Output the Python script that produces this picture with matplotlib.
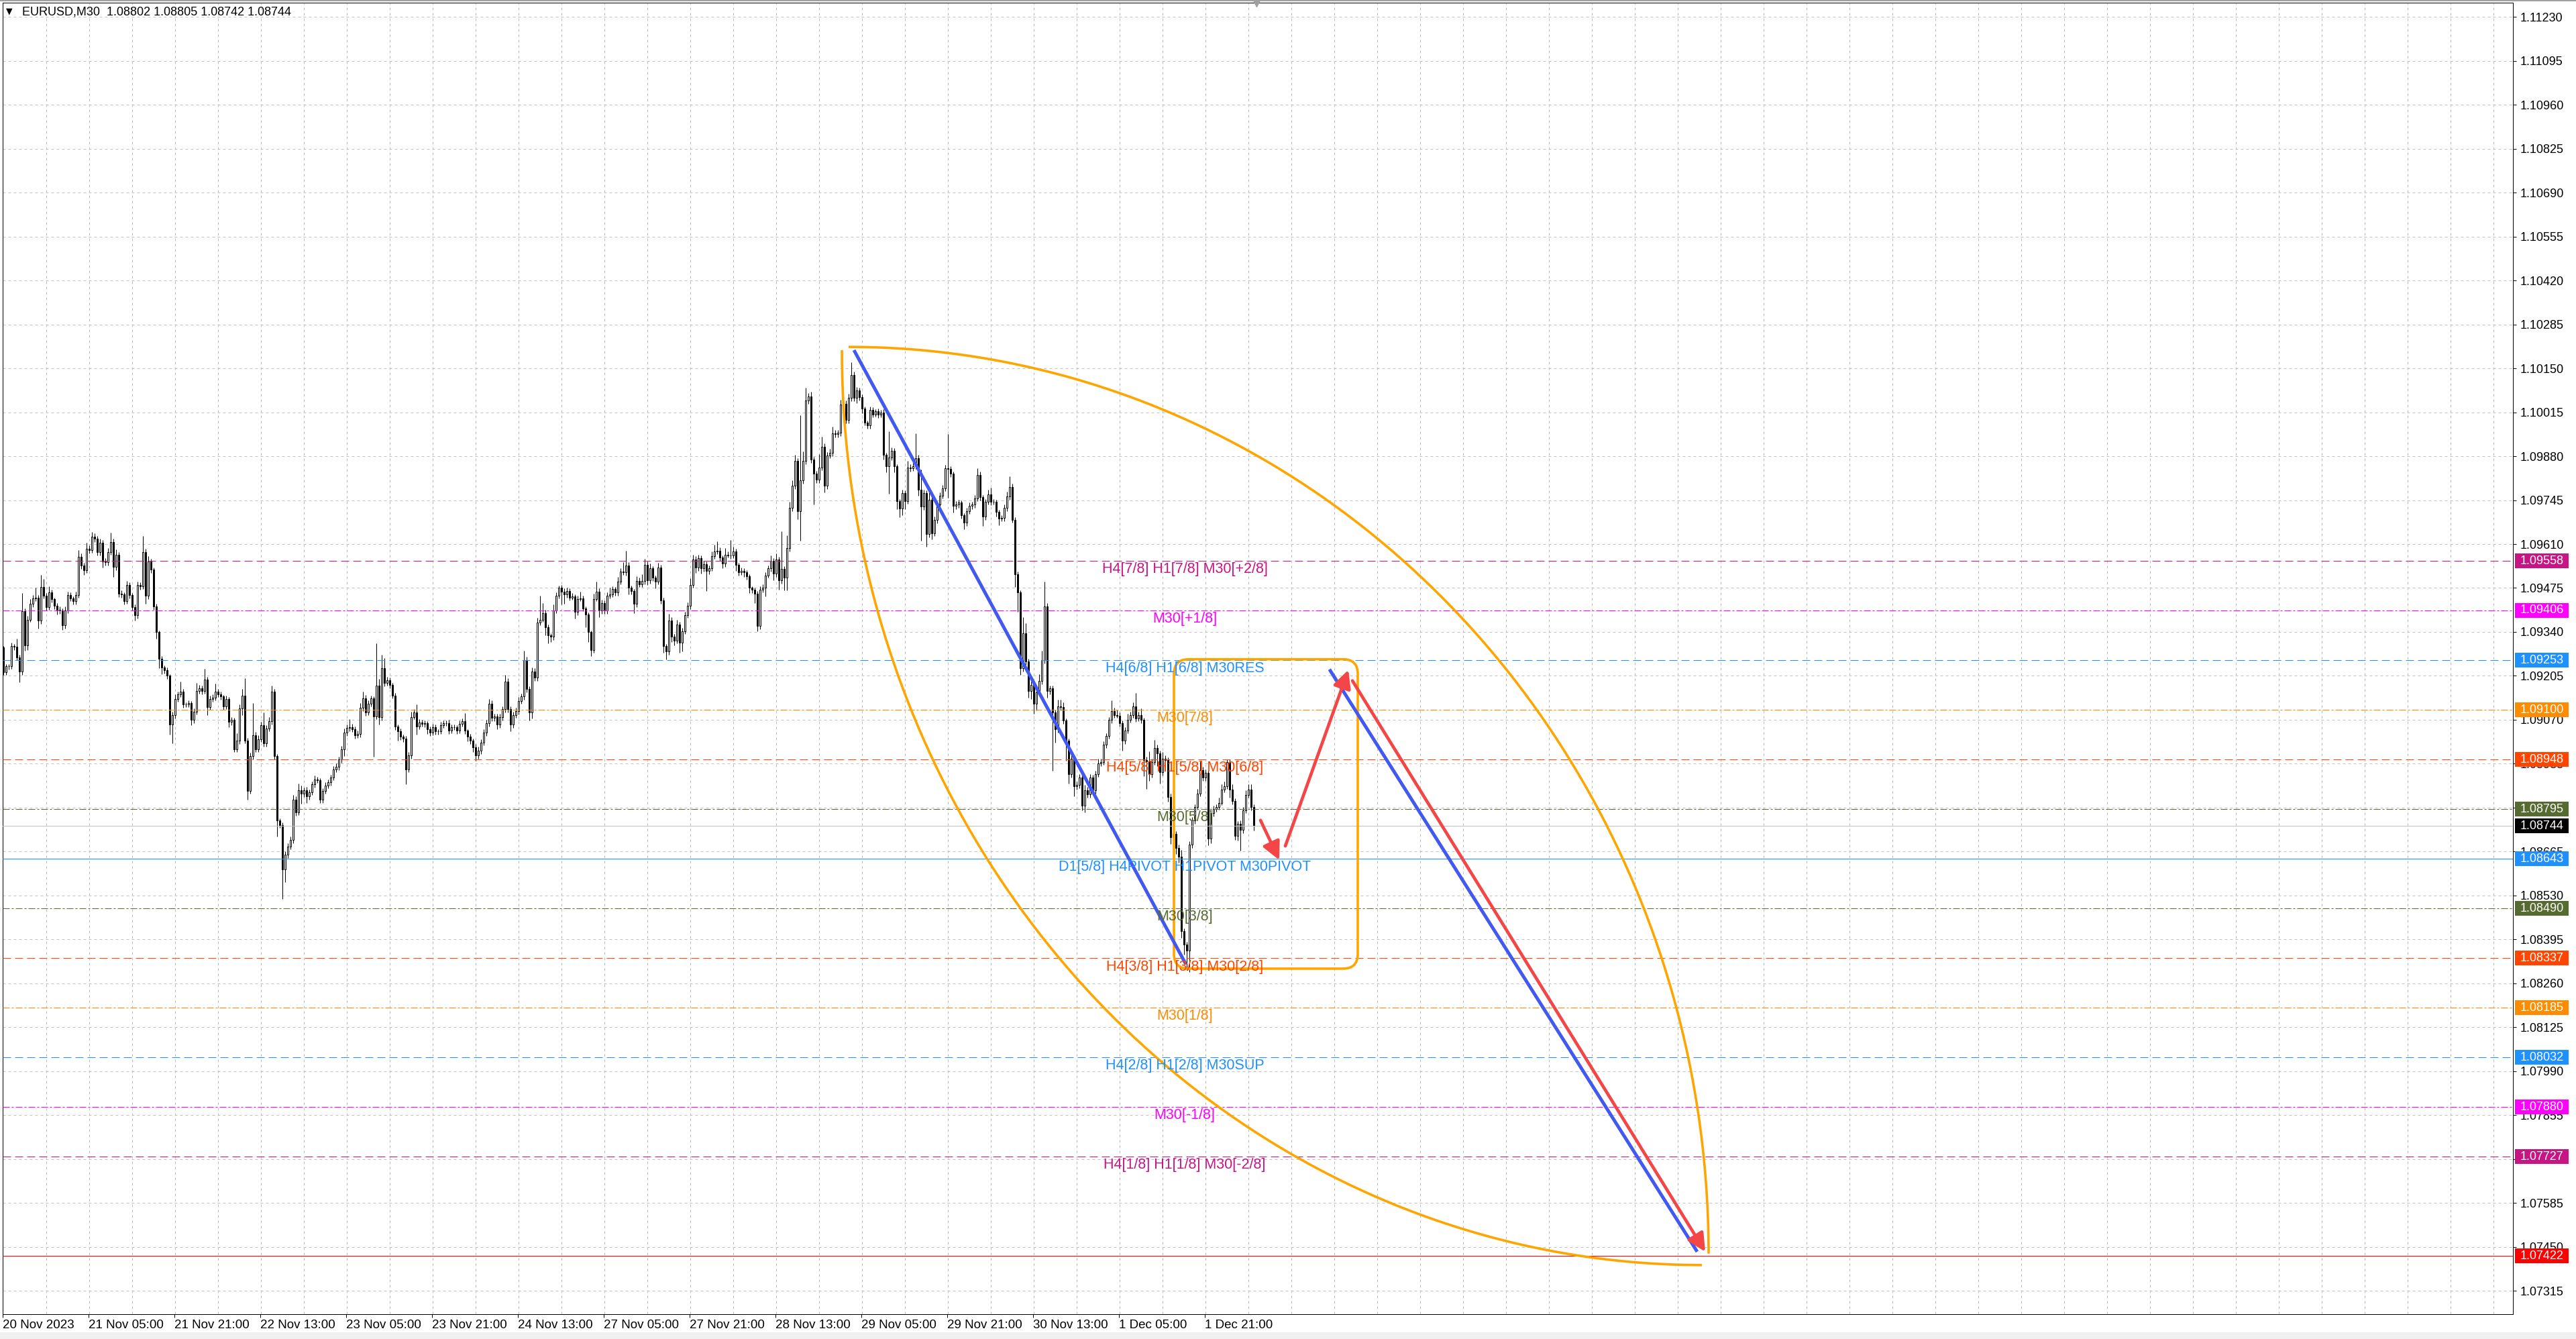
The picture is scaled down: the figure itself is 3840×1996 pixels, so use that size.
import numpy as np
import matplotlib
matplotlib.use('Agg')
import matplotlib.pyplot as plt
from matplotlib.patches import Rectangle, FancyBboxPatch, FancyArrowPatch
from matplotlib.transforms import blended_transform_factory, ScaledTranslation

plt.rcParams['font.family'] = ['Liberation Sans', 'DejaVu Sans']
plt.rcParams['lines.scale_dashes'] = False

# ---------------- data ----------------
symbol = 'EURUSD,M30'
last_ohlc = ['1.08802', '1.08805', '1.08742', '1.08744']

first_open = 1.09292
closes = [
    1.09217, 1.09234, 1.09235, 1.09296, 1.09294, 1.09261, 1.09219, 1.09403, 1.09299, 1.09378,
    1.09427, 1.09444, 1.09446, 1.09374, 1.09478, 1.09451, 1.09416, 1.09461, 1.09440, 1.09420,
    1.09408, 1.09406, 1.09361, 1.09406, 1.09453, 1.09444, 1.09434, 1.09453, 1.09571, 1.09544,
    1.09530, 1.09595, 1.09592, 1.09633, 1.09627, 1.09586, 1.09614, 1.09557, 1.09554, 1.09585,
    1.09616, 1.09539, 1.09578, 1.09458, 1.09455, 1.09434, 1.09485, 1.09453, 1.09416, 1.09391,
    1.09485, 1.09480, 1.09585, 1.09451, 1.09557, 1.09532, 1.09418, 1.09339, 1.09258, 1.09231,
    1.09222, 1.09205, 1.09055, 1.09084, 1.09134, 1.09149, 1.09157, 1.09117, 1.09118, 1.09122,
    1.09069, 1.09094, 1.09158, 1.09167, 1.09158, 1.09193, 1.09110, 1.09134, 1.09138, 1.09157,
    1.09148, 1.09141, 1.09111, 1.09134, 1.09063, 1.09070, 1.08980, 1.09005, 1.09104, 1.09145,
    1.09006, 1.08852, 1.08958, 1.09023, 1.08980, 1.09010, 1.09053, 1.08997, 1.09043, 1.09066,
    1.09156, 1.08959, 1.08761, 1.08747, 1.08610, 1.08655, 1.08681, 1.08700, 1.08824, 1.08786,
    1.08853, 1.08842, 1.08853, 1.08835, 1.08847, 1.08871, 1.08886, 1.08884, 1.08825, 1.08851,
    1.08868, 1.08878, 1.08893, 1.08917, 1.08926, 1.08948, 1.08979, 1.09031, 1.09045, 1.09047,
    1.09042, 1.09023, 1.09027, 1.09106, 1.09136, 1.09093, 1.09120, 1.09135, 1.09081, 1.09175,
    1.09078, 1.09229, 1.09183, 1.09192, 1.09177, 1.09145, 1.09049, 1.09035, 1.09018, 1.09012,
    1.08918, 1.08961, 1.09079, 1.09093, 1.09050, 1.09062, 1.09057, 1.09059, 1.09042, 1.09031,
    1.09047, 1.09035, 1.09034, 1.09053, 1.09060, 1.09060, 1.09036, 1.09047, 1.09047, 1.09036,
    1.09057, 1.09066, 1.09036, 1.09018, 1.09005, 1.08985, 1.08960, 1.08975, 1.09000, 1.09030,
    1.09060, 1.09119, 1.09076, 1.09080, 1.09055, 1.09078, 1.09102, 1.09187, 1.09103, 1.09055,
    1.09085, 1.09096, 1.09127, 1.09141, 1.09253, 1.09165, 1.09093, 1.09219, 1.09200, 1.09368,
    1.09378, 1.09398, 1.09354, 1.09330, 1.09325, 1.09405, 1.09451, 1.09476, 1.09464, 1.09456,
    1.09466, 1.09446, 1.09449, 1.09401, 1.09442, 1.09444, 1.09413, 1.09394, 1.09339, 1.09285,
    1.09442, 1.09464, 1.09406, 1.09428, 1.09406, 1.09451, 1.09455, 1.09471, 1.09462, 1.09494,
    1.09525, 1.09523, 1.09545, 1.09475, 1.09466, 1.09427, 1.09497, 1.09486, 1.09497, 1.09546,
    1.09499, 1.09535, 1.09506, 1.09494, 1.09537, 1.09437, 1.09297, 1.09280, 1.09375, 1.09325,
    1.09314, 1.09363, 1.09306, 1.09343, 1.09391, 1.09420, 1.09485, 1.09562, 1.09537, 1.09566,
    1.09535, 1.09548, 1.09528, 1.09535, 1.09572, 1.09588, 1.09590, 1.09568, 1.09550, 1.09578,
    1.09576, 1.09575, 1.09587, 1.09547, 1.09523, 1.09528, 1.09523, 1.09511, 1.09475, 1.09470,
    1.09458, 1.09358, 1.09470, 1.09475, 1.09514, 1.09535, 1.09559, 1.09519, 1.09562, 1.09499,
    1.09533, 1.09507, 1.09597, 1.09722, 1.09790, 1.09865, 1.09711, 1.09806, 1.09865, 1.10051,
    1.10063, 1.09869, 1.09826, 1.09808, 1.09846, 1.09909, 1.09789, 1.09883, 1.09891, 1.09950,
    1.09948, 1.09952, 1.10039, 1.10041, 1.09992, 1.10059, 1.10130, 1.10059, 1.10083, 1.10061,
    1.10027, 1.09984, 1.09974, 1.10022, 1.10009, 1.10019, 1.10008, 1.10014, 1.09885, 1.09850,
    1.09877, 1.09897, 1.09850, 1.09743, 1.09719, 1.09767, 1.09743, 1.09846, 1.09843, 1.09850,
    1.09875, 1.09778, 1.09725, 1.09767, 1.09640, 1.09747, 1.09644, 1.09684, 1.09731, 1.09759,
    1.09782, 1.09843, 1.09842, 1.09827, 1.09727, 1.09731, 1.09737, 1.09699, 1.09676, 1.09711,
    1.09727, 1.09731, 1.09751, 1.09823, 1.09755, 1.09695, 1.09739, 1.09763, 1.09740, 1.09739,
    1.09709, 1.09688, 1.09690, 1.09721, 1.09756, 1.09786, 1.09684, 1.09518, 1.09462, 1.09229,
    1.09336, 1.09249, 1.09158, 1.09178, 1.09119, 1.09154, 1.09190, 1.09253, 1.09419, 1.09158,
    1.09166, 1.09092, 1.09040, 1.09111, 1.09109, 1.09067, 1.09005, 1.08903, 1.08951, 1.08865,
    1.08870, 1.08892, 1.08806, 1.08854, 1.08840, 1.08892, 1.08854, 1.08903, 1.08935, 1.08940,
    1.08994, 1.09021, 1.09069, 1.09096, 1.09085, 1.09083, 1.09059, 1.09005, 1.09037, 1.09069,
    1.09085, 1.09112, 1.09074, 1.09085, 1.09069, 1.08946, 1.08943, 1.08903, 1.08940, 1.08983,
    1.08967, 1.08908, 1.08951, 1.08946, 1.08833, 1.08709, 1.08720, 1.08677, 1.08650, 1.08420,
    1.08379, 1.08361, 1.08686, 1.08760, 1.08801, 1.08842, 1.08916, 1.08893, 1.08907, 1.08705,
    1.08783, 1.08796, 1.08801, 1.08815, 1.08856, 1.08865, 1.08939, 1.08856, 1.08821, 1.08714,
    1.08751, 1.08732, 1.08792, 1.08838, 1.08856, 1.08801, 1.08744,
]

# wick lengths beyond the candle body, in points (0.00001)
wick_up = [
    5, 8, 6, 10, 6, 26, 8, 57, 10, 12, 15, 10, 30, 8, 38, 25, 8, 20, 8, 6,
    8, 10, 6, 12, 10, 8, 6, 10, 20, 10, 8, 20, 10, 14, 10, 8, 12, 8, 10, 12,
    30, 10, 15, 8, 10, 6, 12, 8, 6, 8, 10, 8, 50, 10, 15, 8, 6, 8, 6, 8,
    6, 8, 6, 10, 15, 8, 30, 8, 6, 8, 6, 10, 25, 10, 8, 34, 8, 10, 10, 25,
    8, 8, 6, 10, 6, 8, 6, 23, 14, 20, 52, 8, 10, 98, 10, 12, 10, 40, 10, 12,
    20, 8, 6, 6, 8, 10, 10, 12, 15, 10, 20, 15, 8, 10, 8, 10, 12, 8, 6, 8,
    10, 8, 8, 10, 10, 8, 10, 12, 10, 25, 10, 8, 10, 15, 20, 10, 10, 10, 8, 130,
    20, 40, 30, 10, 8, 6, 8, 6, 8, 6, 8, 10, 15, 10, 25, 10, 8, 8, 6, 8,
    10, 8, 6, 10, 8, 8, 10, 8, 8, 6, 10, 8, 25, 6, 8, 8, 10, 12, 10, 10,
    10, 15, 10, 8, 8, 10, 10, 22, 10, 8, 10, 10, 12, 10, 29, 10, 8, 12, 10, 15,
    74, 30, 10, 8, 6, 20, 10, 7, 8, 10, 10, 8, 10, 6, 10, 20, 8, 6, 6, 6,
    15, 30, 10, 10, 8, 10, 20, 10, 8, 15, 10, 30, 45, 10, 8, 6, 15, 10, 20, 18,
    10, 15, 8, 8, 15, 10, 8, 6, 20, 10, 8, 15, 8, 10, 10, 10, 20, 15, 10, 12,
    8, 10, 8, 10, 15, 20, 28, 10, 8, 20, 10, 47, 15, 8, 6, 10, 8, 6, 6, 6,
    6, 8, 10, 12, 10, 10, 15, 8, 20, 8, 117, 10, 40, 18, 15, 20, 10, 200, 30, 39,
    10, 15, 10, 8, 40, 30, 10, 10, 12, 20, 10, 8, 15, 20, 10, 12, 39, 10, 10, 8,
    8, 6, 6, 10, 8, 6, 8, 8, 10, 6, 80, 10, 8, 6, 6, 10, 8, 20, 10, 10,
    75, 10, 60, 10, 8, 30, 10, 10, 10, 10, 10, 10, 106, 8, 6, 10, 10, 8, 6, 10,
    10, 8, 10, 20, 10, 6, 10, 15, 20, 8, 8, 6, 8, 10, 15, 32, 10, 8, 8, 6,
    49, 30, 8, 10, 8, 10, 20, 30, 75, 10, 10, 10, 8, 20, 20, 15, 6, 8, 15, 10,
    10, 10, 8, 15, 10, 10, 8, 10, 15, 10, 10, 8, 10, 33, 10, 15, 10, 8, 10, 20,
    10, 11, 40, 10, 20, 8, 10, 30, 10, 25, 10, 8, 20, 10, 8, 10, 8, 8, 10, 20,
    8, 8, 10, 10, 10, 15, 27, 10, 10, 8, 10, 10, 10, 15, 15, 15, 9, 10, 15, 8,
    8, 10, 10, 15, 15, 15, 10,
]
wick_dn = [
    10, 8, 10, 8, 10, 8, 33, 10, 17, 15, 8, 10, 10, 24, 10, 8, 10, 8, 10, 10,
    15, 10, 15, 10, 8, 10, 10, 10, 8, 10, 15, 8, 10, 8, 10, 12, 10, 20, 10, 10,
    8, 30, 10, 10, 10, 10, 8, 10, 10, 15, 10, 10, 8, 25, 10, 10, 10, 20, 30, 20,
    10, 10, 31, 58, 10, 8, 10, 10, 8, 8, 15, 10, 8, 8, 10, 8, 25, 10, 8, 8,
    8, 10, 10, 8, 15, 10, 10, 10, 10, 20, 8, 27, 10, 10, 10, 10, 8, 10, 10, 8,
    10, 10, 50, 10, 90, 40, 10, 10, 10, 10, 8, 30, 10, 20, 10, 8, 10, 8, 10, 10,
    8, 8, 10, 8, 8, 10, 10, 20, 10, 10, 10, 10, 8, 10, 10, 10, 8, 8, 125, 10,
    23, 10, 10, 8, 10, 10, 10, 30, 10, 10, 47, 10, 10, 8, 25, 10, 8, 10, 15, 10,
    8, 10, 10, 8, 8, 8, 10, 8, 8, 10, 8, 8, 10, 15, 10, 15, 15, 10, 10, 8,
    10, 10, 10, 10, 15, 10, 10, 10, 10, 20, 10, 8, 10, 8, 10, 10, 25, 20, 10, 10,
    8, 8, 25, 26, 15, 10, 8, 8, 40, 30, 10, 10, 8, 20, 10, 8, 10, 40, 30, 20,
    10, 8, 20, 10, 10, 10, 8, 8, 10, 10, 8, 8, 10, 20, 10, 30, 10, 8, 8, 10,
    15, 10, 10, 20, 8, 10, 20, 25, 10, 15, 15, 10, 30, 25, 10, 8, 10, 8, 15, 10,
    15, 10, 62, 10, 8, 8, 8, 10, 15, 10, 8, 10, 8, 20, 10, 8, 15, 10, 15, 10,
    30, 17, 10, 8, 25, 8, 10, 20, 10, 30, 10, 40, 40, 10, 10, 10, 25, 90, 10, 10,
    10, 10, 95, 10, 10, 10, 20, 10, 10, 10, 10, 10, 10, 10, 10, 10, 10, 10, 15, 10,
    15, 10, 10, 10, 10, 8, 10, 8, 15, 20, 85, 10, 20, 25, 26, 20, 25, 10, 10, 8,
    10, 20, 105, 10, 39, 10, 20, 10, 10, 10, 8, 10, 90, 10, 20, 10, 10, 10, 20, 10,
    8, 10, 10, 10, 10, 30, 10, 8, 10, 8, 15, 20, 8, 10, 10, 10, 8, 40, 61, 20,
    10, 10, 20, 25, 30, 20, 10, 10, 10, 20, 10, 178, 40, 10, 10, 10, 60, 30, 10, 30,
    10, 10, 15, 20, 10, 10, 10, 10, 8, 8, 8, 10, 8, 10, 10, 8, 10, 30, 10, 8,
    8, 8, 10, 8, 10, 50, 85, 20, 10, 8, 40, 35, 10, 10, 15, 20, 20, 20, 20, 20,
    30, 61, 66, 10, 10, 8, 8, 10, 10, 20, 15, 10, 8, 8, 8, 8, 8, 25, 10, 14,
    15, 64, 10, 8, 8, 10, 15,
]

time_labels = ['20 Nov 2023', '21 Nov 05:00', '21 Nov 21:00', '22 Nov 13:00', '23 Nov 05:00',
               '23 Nov 21:00', '24 Nov 13:00', '27 Nov 05:00', '27 Nov 21:00', '28 Nov 13:00',
               '29 Nov 05:00', '29 Nov 21:00', '30 Nov 13:00', '1 Dec 05:00', '1 Dec 21:00']
bars_per_label = 32

price_axis_top = 1.11230
price_axis_step = 0.00135
price_axis_count = 30

level_prices = [1.09558, 1.09406, 1.09253, 1.09100, 1.08948, 1.08795, 1.08643,
                1.08490, 1.08337, 1.08185, 1.08032, 1.07880, 1.07727]
level_names = ['H4[7/8] H1[7/8] M30[+2/8]', 'M30[+1/8]', 'H4[6/8] H1[6/8] M30RES', 'M30[7/8]',
               'H4[5/8] H1[5/8] M30[6/8]', 'M30[5/8]', 'D1[5/8] H4PIVOT H1PIVOT M30PIVOT',
               'M30[3/8]', 'H4[3/8] H1[3/8] M30[2/8]', 'M30[1/8]', 'H4[2/8] H1[2/8] M30SUP',
               'M30[-1/8]', 'H4[1/8] H1[1/8] M30[-2/8]']
level_colors = ['#C71585', '#FF00FF', '#1E90FF', '#FF8C00', '#FF4500', '#556B2F', '#1E90FF',
                '#556B2F', '#FF4500', '#FF8C00', '#1E90FF', '#FF00FF', '#C71585']
level_styles = ['dash', 'dashdot', 'dash', 'dashdot', 'dash', 'dashdot', 'solid',
                'dashdot', 'dash', 'dashdot', 'dash', 'dashdot', 'dash']
level_label_bar = 440.25

bid_price = 1.08744
target_price = 1.07422

# drawn objects, anchors as (bar index, price)
blue_lines = [((317.0, 1.10206), (440.75, 1.08318)),
              ((494.2, 1.09225), (631.25, 1.07435))]
red_arrows = [((468.5, 1.08761), (475.5, 1.08639)),
              ((477.75, 1.08682), (501.25, 1.09223)),
              ((502.75, 1.09190), (634.25, 1.07435))]
arc_upper = ((315.0, 1.10216), (635.5, 1.07429))
arc_lower = ((312.5, 1.10206), (633.0, 1.07394))
range_box = (436.25, 1.08305, 504.75, 1.09256)

# ---------------- figure ----------------
W, H = 3840, 1996
PX = 0.72  # one pixel in points at dpi 100
fig = plt.figure(figsize=(W / 100, H / 100), dpi=100)
fig.patch.set_facecolor('white')
ax_l, ax_r, ax_t, ax_b = 3.5, 3745.5, 4.0, 1959.0
ax = fig.add_axes([ax_l / W, 1 - ax_b / H, (ax_r - ax_l) / W, (ax_b - ax_t) / H])
ax.set_xlim(-0.375, 935.125)
ax.set_ylim(1.07243, 1.11274)
ppx_price = (1.11274 - 1.07243) / (ax_b - ax_t)

for s in ax.spines.values():
    s.set_linewidth(PX)
    s.set_color('black')

# grid
ax.set_axisbelow(True)
yt = price_axis_top - price_axis_step * np.arange(price_axis_count)
ax.yaxis.tick_right()
ax.set_yticks(yt)
ax.set_yticklabels([f'{v:.5f}' for v in yt])
ax.tick_params(axis='y', length=5 * PX, width=PX, pad=6.5 * PX, labelsize=13, colors='black')
ax.grid(axis='y', color='#C0C0C0', linestyle=(0, (4 * PX, 4 * PX)), linewidth=PX)
ax.vlines(np.arange(16, 936, 16), 1.07243, 1.11274, colors='#C0C0C0',
          linestyles=[(0, (4 * PX, 4 * PX))], linewidth=PX, zorder=0.5)

xt = np.arange(len(time_labels)) * bars_per_label - 0.25
ax.set_xticks(xt)
ax.set_xticklabels(time_labels, ha='left', fontsize=13.5)
shift = ScaledTranslation(2 / 100, 0, fig.dpi_scale_trans)
for lab in ax.get_xticklabels():
    lab.set_transform(lab.get_transform() + shift)
ax.tick_params(axis='x', length=5 * PX, width=PX, pad=3 * PX)

# candles
c = np.array(closes)
o = np.concatenate([[first_open], c[:-1]])
x = np.arange(len(c))
top = np.maximum(o, c)
bot = np.minimum(o, c)
hi = top + np.array(wick_up) * 1e-5
lo = bot - np.array(wick_dn) * 1e-5
ax.vlines(x, lo, hi, colors='black', linewidth=PX, zorder=2)
bull = c >= o
ax.bar(x[bull], (top - bot)[bull], bottom=bot[bull], width=0.5, facecolor='white',
       edgecolor='black', linewidth=PX, zorder=2.1)
ax.bar(x[~bull], (top - bot)[~bull], bottom=bot[~bull], width=0.5, facecolor='black',
       edgecolor='black', linewidth=PX, zorder=2.1)

# level lines and labels
dash = {'dash': (0, (12 * PX, 6 * PX)), 'dashdot': (0, (10 * PX, 3 * PX, 3 * PX, 3 * PX)), 'solid': '-'}
for p, name, col, st in zip(level_prices, level_names, level_colors, level_styles):
    ax.axhline(p, color=col, linestyle=dash[st], linewidth=PX, zorder=3)
    ax.annotate(name, (level_label_bar, p), xytext=(0, -1.5), textcoords='offset points',
                ha='center', va='top', color=col, fontsize=15.5, zorder=9)
ax.axhline(bid_price, color='#C0C0C0', linewidth=PX, zorder=3)
ax.axhline(target_price, color='#FF0000', linewidth=PX, zorder=3)

# drawn objects
t = np.linspace(0, np.pi / 2, 300)
(tx, ty), (ex, ey) = arc_upper
ax.plot(tx + (ex - tx) * np.sin(t), ey + (ty - ey) * np.cos(t), color='#FFA500', lw=2.6,
        solid_capstyle='butt', zorder=6)
(tx, ty), (ex, ey) = arc_lower
ax.plot(ex - (ex - tx) * np.cos(t), ty - (ty - ey) * np.sin(t), color='#FFA500', lw=2.6,
        solid_capstyle='butt', zorder=6)

x0, y0, x1, y1 = range_box
ax.add_patch(FancyBboxPatch((x0, y0), x1 - x0, y1 - y0,
                            boxstyle='round,pad=0,rounding_size=5.5',
                            mutation_aspect=ppx_price * 4, facecolor='none',
                            edgecolor='#FFA500', lw=2.6, zorder=6))

for (a, b) in blue_lines:
    ax.plot([a[0], b[0]], [a[1], b[1]], color='#4159F0', lw=3.6, solid_capstyle='butt', zorder=7)

for (a, b) in red_arrows:
    ax.add_patch(FancyArrowPatch(a, b, arrowstyle='-|>,head_length=0.9,head_width=0.45',
                                 mutation_scale=18, color='#F44646', lw=3.4,
                                 shrinkA=0, shrinkB=0, zorder=8))

# price boxes on the right axis
axw = ax_r - ax_l
tb = blended_transform_factory(ax.transAxes, ax.transData)
box_x0 = 1 + 3.5 / axw
box_w = 80 / axw
box_h = 22 * ppx_price
box_prices = level_prices + [bid_price, target_price]
box_colors = level_colors + ['#000000', '#FF0000']
for p, col in zip(box_prices, box_colors):
    ax.add_patch(Rectangle((box_x0, p - box_h / 2), box_w, box_h, transform=tb,
                           facecolor=col, edgecolor='none', clip_on=False, zorder=20))
    ax.text(1 + (3757 - ax_r) / axw, p, f'{p:.5f}', transform=tb, ha='left', va='center',
            color='white', fontsize=13, clip_on=False, zorder=21)

# chart shift marker
ax.plot([len(closes)], [1.0], marker='v', ms=8, color='#A0A0A0',
        transform=blended_transform_factory(ax.transData, ax.transAxes), clip_on=False, zorder=10)

# title
fig.text(9 / W, 1 - 17 / H, '\u25BC', fontsize=9, family='DejaVu Sans', va='center', ha='left')
fig.text(33 / W, 1 - 18 / H, symbol + '  ' + ' '.join(last_ohlc), fontsize=13,
         va='center', ha='left')

# window edges
fig.patches.append(Rectangle((0, 0), 1, 10 / H, transform=fig.transFigure,
                             facecolor='#F0F0F0', edgecolor='none', zorder=-1))
fig.patches.append(Rectangle((0, 1 - 2 / H), 1, 2 / H, transform=fig.transFigure,
                             facecolor='#A0A0A0', edgecolor='none', zorder=-1))

fig.savefig('out.png', dpi=100)
